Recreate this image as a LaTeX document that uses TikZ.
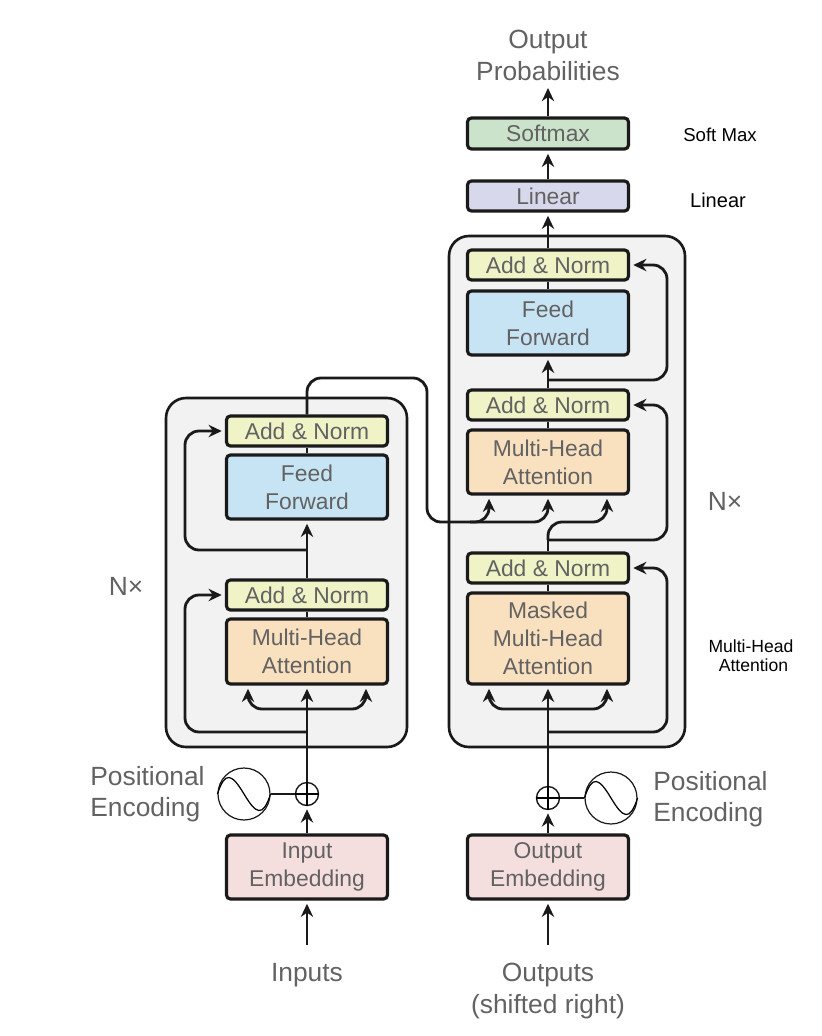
\documentclass[tikz,border=0pt]{standalone}
\usepackage{fontspec}
\setmainfont{Liberation Sans}
\usetikzlibrary{arrows.meta}

\definecolor{textgray}{HTML}{626262}
\definecolor{linegray}{HTML}{1A1A1A}
\definecolor{normfill}{HTML}{EFF3C6}
\definecolor{feedfill}{HTML}{C7E4F4}
\definecolor{headfill}{HTML}{F9E0BF}
\definecolor{embfill}{HTML}{F5DEDE}
\definecolor{softfill}{HTML}{CBE3CB}
\definecolor{linfill}{HTML}{D8D8EC}
\tikzset{
  block/.style={draw=linegray, line width=1.8pt, rounded corners=2.2pt, inner sep=0pt, minimum width=3.22cm,
    align=center, text=textgray, font=\fontsize{13}{16}\selectfont},
  panel/.style={draw=linegray, line width=1.5pt, fill=black!5, rounded corners=0.4cm},
  conn/.style={draw=linegray, line width=1.6pt, rounded corners=0.28cm},
  flow/.style={conn, -{Stealth[length=7.5pt,width=7pt]}, shorten >=1.8pt},
  outer/.style={align=center, inner sep=0pt, text=textgray, font=\fontsize{15}{18}\selectfont},
  note/.style={align=center, inner sep=0pt, text=black},
  wave/.style={circle, draw=linegray, line width=0.7pt, inner sep=0pt, minimum size=1.04cm},
  plus/.style={circle, draw=linegray, line width=0.8pt, fill=white, inner sep=0pt, minimum size=0.46cm},
}

\begin{document}
\begin{tikzpicture}[x=0.02cm, y=-0.02cm]
        \useasboundingbox (0,0) rectangle (822,1036);
        \draw[panel] (166,398) rectangle (407,747);
        \draw[panel] (449,236) rectangle (685,747);
        % encoder side
        \node[block, minimum height=0.6cm, fill=normfill] (AN1) at (307,431) {Add \& Norm};
        \node[block, minimum height=1.28cm, fill=feedfill] (FF1) at (307,487) {Feed\\Forward};
        \node[block, minimum height=0.6cm, fill=normfill] (AN2) at (307,595) {Add \& Norm};
        \node[block, minimum height=1.3cm, fill=headfill] (MH1) at (307,651.5) {Multi-Head\\Attention};
        \node[block, minimum height=1.28cm, fill=embfill] (IE) at (307,867) {Input\\Embedding};
        % decoder side
        \node[block, minimum height=0.62cm, fill=softfill] (SM) at (548,133.5) {Softmax};
        \node[block, minimum height=0.6cm, fill=linfill] (LN) at (548,196) {Linear};
        \node[block, minimum height=0.6cm, fill=normfill] (AN3) at (548,265) {Add \& Norm};
        \node[block, minimum height=1.28cm, fill=feedfill] (FF2) at (548,323) {Feed\\Forward};
        \node[block, minimum height=0.6cm, fill=normfill] (AN4) at (548,405) {Add \& Norm};
        \node[block, minimum height=1.28cm, fill=headfill] (MH2) at (548,462) {Multi-Head\\Attention};
        \node[block, minimum height=0.6cm, fill=normfill] (AN5) at (548,568) {Add \& Norm};
        \node[block, minimum height=1.82cm, fill=headfill] (MH3) at (548,638.5) {Masked\\Multi-Head\\Attention};
        \node[block, minimum height=1.28cm, fill=embfill] (OE) at (548,867) {Output\\Embedding};
        % positional encoding
        \node[plus] (P1) at (307,794) {};
        \node[wave] (W1) at (244,794) {};
        \node[plus] (P2) at (548,798) {};
        \node[wave] (W2) at (611,798) {};
        \draw[line width=0.7pt] (W1.west) .. controls +(8,-24) and +(-12,-20) .. (W1.center) .. controls +(12,20) and +(-8,24) .. (W1.east);
        \draw[line width=0.7pt] (W2.west) .. controls +(8,-24) and +(-12,-20) .. (W2.center) .. controls +(12,20) and +(-8,24) .. (W2.east);
        \draw[line width=0.7pt] (P1.north) -- (P1.south) (P1.west) -- (P1.east);
        \draw[line width=0.7pt] (P2.north) -- (P2.south) (P2.west) -- (P2.east);
        \draw[conn] (W1) -- (P1);
        \draw[conn] (W2) -- (P2);
        % labels
        \node[outer, align=left, anchor=west] (PE1) at (90,794) {Positional\\Encoding};
        \node[outer, align=left, anchor=west] (PE2) at (653,799) {Positional\\Encoding};
        \node[outer] (IN) at (307,975) {Inputs};
        \node[outer, anchor=north] (OUT) at (548,963) {Outputs\\(shifted right)};
        \node[outer, anchor=south] (PR) at (548,81) {Output\\Probabilities};
        \node[outer] (NL) at (126,586) {N×};
        \node[outer] (NR) at (725,501) {N×};
        \node[note, font=\fontsize{10.6}{12}\selectfont] (T1) at (720,135) {Soft Max};
        \node[note, font=\fontsize{11.4}{13}\selectfont] (T2) at (718,200) {Linear};
        \node[note, font=\fontsize{10}{11}\selectfont] (T3) at (751,656) {Multi-Head\\\hspace{0.1cm}Attention};
        % helper points
        \coordinate (R1) at (307,732);
        \coordinate (R2) at (307,550);
        \coordinate (H1) at (307,709);
        \coordinate (H2) at (548,709);
        \coordinate (R3) at (548,732);
        \coordinate (R4) at (548,540);
        \coordinate (R5) at (548,380);
        % encoder connectors
        \draw[flow, shorten <=10pt] (IN.north) -- (IE.south);
        \draw[flow] (IE.north) -- (P1.south);
        \draw[flow] (P1.north) -- (MH1.south);
        \draw[flow] (H1) -| ([xshift=-1.18cm]MH1.south);
        \draw[flow] (H1) -| ([xshift=1.18cm]MH1.south);
        \draw[conn] (MH1.north) -- (AN2.south);
        \draw[flow] (AN2.north) -- (FF1.south);
        \draw[conn] (FF1.north) -- (AN1.south);
        \draw[flow] (R1) -- (185,732) |- (AN2.west);
        \draw[flow] (R2) -- (185,550) |- (AN1.west);
        % decoder connectors
        \draw[flow, shorten <=10pt] (OUT.north) -- (OE.south);
        \draw[flow] (OE.north) -- (P2.south);
        \draw[flow] (P2.north) -- (MH3.south);
        \draw[flow] (H2) -| ([xshift=-1.18cm]MH3.south);
        \draw[flow] (H2) -| ([xshift=1.18cm]MH3.south);
        \draw[conn] (MH3.north) -- (AN5.south);
        \draw[flow] (R3) -- (667,732) |- (AN5.east);
        \draw[conn] (AN5.north) -- (R4);
        \draw[flow] (R4) -- (548,522) -| ([xshift=1.18cm]MH2.south);
        \draw[flow] (R4) -- (667,540) |- (AN4.east);
        \draw[conn] (MH2.north) -- (AN4.south);
        \draw[flow] (AN4.north) -- (FF2.south);
        \draw[flow] (R5) -- (667,380) |- (AN3.east);
        \draw[conn] (FF2.north) -- (AN3.south);
        \draw[flow] (AN3.north) -- (LN.south);
        \draw[flow] (LN.north) -- (SM.south);
        \draw[flow, shorten >=4pt] (SM.north) -- (PR.south);
        % encoder to decoder
        \draw[flow] (AN1.north) -- (307,378) -- (427,378) -- (427,522) -| (MH2.south);
        \draw[flow] (470,522) -| ([xshift=-1.18cm]MH2.south);
\end{tikzpicture}
\end{document}
